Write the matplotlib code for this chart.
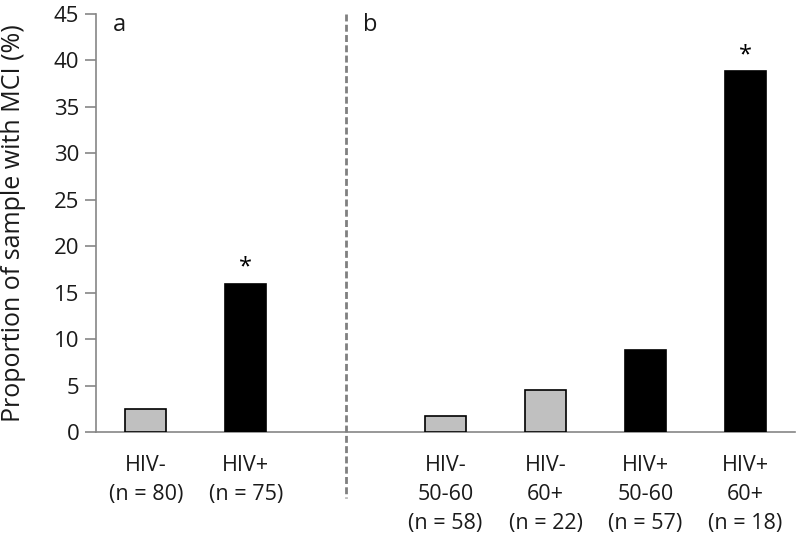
import matplotlib
matplotlib.use("Agg")
import matplotlib.pyplot as plt
import numpy as np

plt.rcParams['font.family'] = ['Open Sans', 'DejaVu Sans']

# Data
categories = ["HIV-\n(n = 80)", "HIV+\n(n = 75)", "",
              "HIV-\n50-60\n(n = 58)", "HIV-\n60+\n(n = 22)",
              "HIV+\n50-60\n(n = 57)", "HIV+\n60+\n(n = 18)"]
values = [2.5, 16.0, np.nan, 1.7, 4.5, 8.8, 38.9]
hiv_status = ["neg", "pos", None, "neg", "neg", "pos", "pos"]
significant = [False, True, False, False, False, False, True]
panel_labels = ["a", "b"]
y_ticks = [0, 5, 10, 15, 20, 25, 30, 35, 40, 45]
y_label = "Proportion of sample with MCI (%)"

fig = plt.figure(figsize=(8, 5.37), dpi=100)
ax = fig.add_axes([0.12, 0.195, 0.874, 0.779])

x = np.arange(len(categories))
colors = {"neg": "#c0c0c0", "pos": "#000000", None: "none"}
for xi, v, s in zip(x, values, hiv_status):
    if s is None:
        continue
    ax.bar(xi, v, width=0.41, color=colors[s], edgecolor="black", linewidth=1.2, zorder=3)

for xi, v, sig in zip(x, values, significant):
    if sig:
        ax.text(xi, v + 0.4, "*", ha="center", va="bottom", fontsize=17, color="black")

ax.set_xlim(-0.5, len(categories) - 0.5)
ax.set_ylim(0, 45)
ax.set_yticks(y_ticks)
ax.set_xticks(x)
ax.set_xticklabels(categories, fontsize=15.5, color="#1a1a1a", linespacing=1.5, va="top")
ax.tick_params(axis="x", length=0, pad=16)
ax.tick_params(axis="y", direction="out", length=8, width=1.2, color="#868686",
               labelsize=16, labelcolor="#1a1a1a", pad=4)
ax.set_ylabel(y_label, fontsize=18, color="#1a1a1a")
ax.yaxis.set_label_coords(-0.1, 0.5)

for sp in ["top", "right"]:
    ax.spines[sp].set_visible(False)
for sp in ["left", "bottom"]:
    ax.spines[sp].set_color("#868686")
    ax.spines[sp].set_linewidth(1.2)

# separator between panels (at the empty category)
sep = x[2]
ax.plot([sep, sep], [45, -7.1], linestyle=(0, (2.5, 1.2)), color="#808080",
        linewidth=2, clip_on=False, zorder=4)

ax.text(x[0] - 0.33, 43.8, panel_labels[0], fontsize=17, ha="left", va="center", color="#1a1a1a")
ax.text(sep + 0.17, 43.8, panel_labels[1], fontsize=17, ha="left", va="center", color="#1a1a1a")

fig.savefig("out.png", dpi=100)
